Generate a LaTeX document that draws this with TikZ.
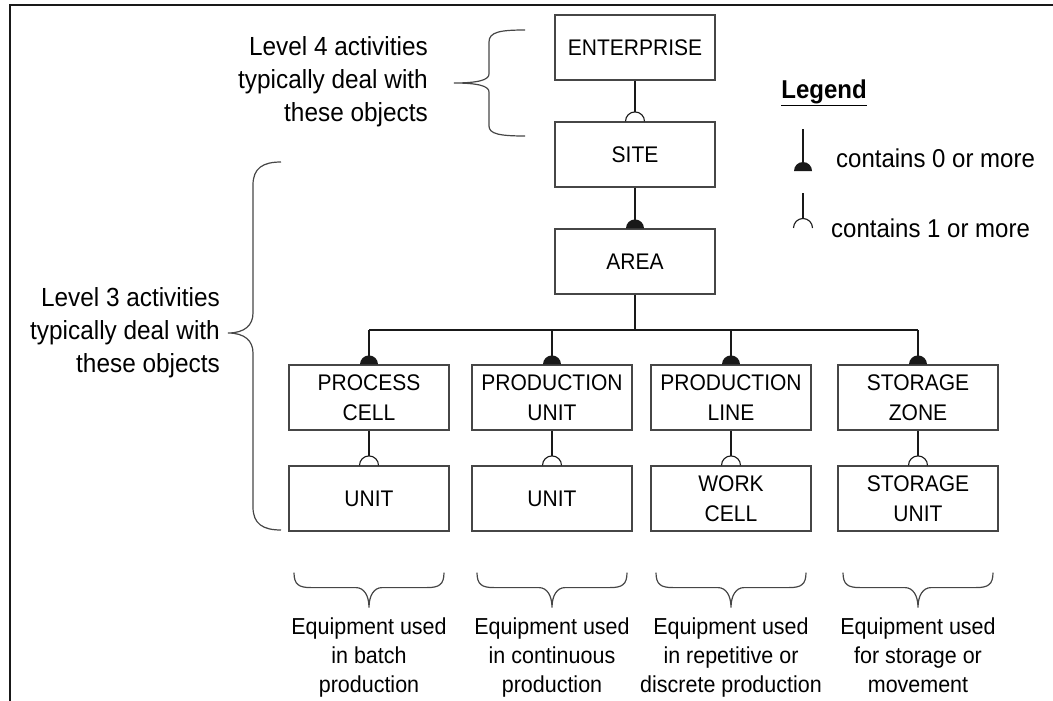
\documentclass[tikz,border=0pt]{standalone}
\usepackage{fontspec}
\setmainfont[FakeStretch=0.93]{Liberation Sans}
\usepackage{tikz}
\usetikzlibrary{calc}
\usepackage{xcolor}
\definecolor{boxgray}{RGB}{70,70,70}
\definecolor{inkgray}{RGB}{25,25,25}
\tikzstyle{objbox} = [rectangle, minimum width=160pt, minimum height=65pt, text centered, align=center, draw=boxgray, line width=1.2pt, inner sep=0pt, font=\fontsize{22.6}{30}\selectfont]
\tikzstyle{thickline} = [line width=2.6pt, color=inkgray]
\tikzstyle{thinline} = [line width=1.1pt, color=inkgray]
\tikzstyle{bracestroke} = [line width=1.2pt, color=boxgray]
\tikzstyle{sidetext} = [align=right, anchor=east, inner sep=0pt, font=\fontsize{26.2}{33}\selectfont]
\tikzstyle{foottext} = [align=center, anchor=north, inner sep=0pt, font=\fontsize{23.1}{29}\selectfont]
\tikzstyle{legtext} = [anchor=west, inner sep=0pt, font=\fontsize{25.8}{29}\selectfont]
% end marks: filled half disc = 0 or more, open arc = 1 or more
\newcommand{\zeroend}[1]{\fill[inkgray] ([xshift=-9pt]#1) arc[start angle=180, end angle=0, radius=9pt] -- cycle;}
\newcommand{\oneend}[1]{\draw[thinline] ([xshift=-9.5pt]#1) arc[start angle=180, end angle=0, radius=9.5pt];}

\begin{document}
\begin{tikzpicture}[x=1pt, y=1pt]
\useasboundingbox (0,0) rectangle (1053,-701);

% Frame
\draw[line width=1.5pt, color=inkgray] (1053,-5) -- (10,-5) -- (10,-701);

% Objects
\node[objbox] (ent) at (635,-47.5) {ENTERPRISE};
\node[objbox] (site) at (635,-154.5) {SITE};
\node[objbox] (area) at (635,-261.5) {AREA};

\node[objbox] (pcell) at (369,-397.5) {PROCESS\\CELL};
\node[objbox] (punit) at (552,-397.5) {PRODUCTION\\UNIT};
\node[objbox] (pline) at (731,-397.5) {PRODUCTION\\LINE};
\node[objbox] (szone) at (918,-397.5) {STORAGE\\ZONE};

\node[objbox] (unit1) at (369,-498.5) {UNIT};
\node[objbox] (unit2) at (552,-498.5) {UNIT};
\node[objbox] (wcell) at (731,-498.5) {WORK\\CELL};
\node[objbox] (sunit) at (918,-498.5) {STORAGE\\UNIT};

% Containment links
\draw[thickline] (ent.south) -- ([yshift=9.5pt]site.north);
\oneend{site.north}
\draw[thickline] (site.south) -- (area.north);
\zeroend{area.north}

\coordinate (bar) at (635,-330);
\draw[thinline] (area.south) -- (bar);
\draw[thinline] (pcell.north |- bar) -- (szone.north |- bar);
\foreach \n in {pcell,punit,pline,szone} {
    \draw[thinline] (\n.north |- bar) -- (\n.north);
    \zeroend{\n.north}
}
\foreach \a/\b in {pcell/unit1,punit/unit2,pline/wcell,szone/sunit} {
    \draw[thinline] (\a.south) -- ([yshift=9.5pt]\b.north);
    \oneend{\b.north}
}

% Level braces
\draw[bracestroke] (525,-30) .. controls (500,-30) and (489,-32) .. (489,-42) -- (489,-74)
    .. controls (489,-80) and (478,-83) .. (454,-83) .. controls (478,-83) and (489,-86) .. (489,-92)
    -- (489,-126) .. controls (489,-134) and (500,-136) .. (525,-136);
\node[sidetext] (lev4) at (428,-82) {Level 4 activities\\typically deal with\hspace*{6pt}\\these objects};

\draw[bracestroke] (281,-162) .. controls (263,-162) and (253,-168) .. (253,-185) -- (253,-313)
    .. controls (253,-325) and (245,-333) .. (228,-333) .. controls (245,-333) and (253,-341) .. (253,-353)
    -- (253,-507) .. controls (253,-524) and (263,-530) .. (281,-530);
\node[sidetext] (lev3) at (220,-333) {Level 3 activities\\typically deal with\hspace*{6pt}\\these objects};

% Equipment braces
\foreach \n/\txt in {unit1/{Equipment used\\in batch\\production},
                     unit2/{Equipment used\\in continuous\\production},
                     wcell/{Equipment used\\in repetitive or\\discrete production},
                     sunit/{Equipment used\\for storage or\\movement}} {
    \draw[bracestroke] ([shift={(-75pt,-41pt)}]\n.south) .. controls +(0,-12) and +(-12,0) .. ++(17,-15)
        -- ++(45,0) .. controls +(8,0) and +(0,12) .. ++(13,-20)
        .. controls +(0,12) and +(-8,0) .. ++(13,20) -- ++(45,0)
        .. controls +(12,0) and +(0,-12) .. ++(17,15);
    \node[foottext] (note-\n) at ([yshift=-86pt]\n.south) {\txt};
}

% Legend
\node[inner sep=0pt, font=\bfseries\fontsize{25.8}{29}\selectfont] (legend) at (824,-93) {\underline{Legend}};
\coordinate (leg0) at (803,-129);
\coordinate (leg0end) at (803,-171);
\draw[thickline] (leg0) -- (leg0end);
\zeroend{leg0end}
\node[legtext] (leg0txt) at (836,-158) {contains 0 or more};
\coordinate (leg1) at (803,-193);
\coordinate (leg1end) at (803,-228);
\draw[thinline] (leg1) -- ([yshift=9.5pt]leg1end);
\oneend{leg1end}
\node[legtext] (leg1txt) at (831,-228) {contains 1 or more};
\end{tikzpicture}
\end{document}
